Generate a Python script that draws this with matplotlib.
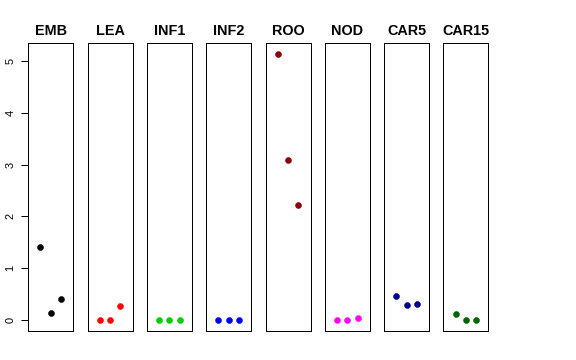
import matplotlib
matplotlib.use("Agg")
import matplotlib.pyplot as plt

plt.rcParams['font.family'] = ['Liberation Sans', 'DejaVu Sans']

categories = ["EMB", "LEA", "INF1", "INF2", "ROO", "NOD", "CAR5", "CAR15"]
values = [
    [1.41, 0.15, 0.42],
    [0.0, 0.0, 0.28],
    [0.0, 0.0, 0.0],
    [0.0, 0.0, 0.0],
    [5.13, 3.09, 2.22],
    [0.0, 0.0, 0.04],
    [0.47, 0.29, 0.31],
    [0.13, 0.0, 0.0],
]
colors = ["#000000", "#FF0000", "#00CD00", "#0000FF", "#8B0000", "#FF00FF", "#00008B", "#006400"]
yticks = [0, 1, 2, 3, 4, 5]

W, H = 576, 360
fig = plt.figure(figsize=(W / 72, H / 72), dpi=72)

all_vals = [v for row in values for v in row]
ymin, ymax = min(all_vals), max(all_vals)
span = ymax - ymin
ylim = (ymin - 0.04 * span, ymax + 0.04 * span)

left0, pitch, pw = 28.3, 59.3, 45.0
top_px, bot_px = 43.3, 331.0
for i, (cat, vals, col) in enumerate(zip(categories, values, colors)):
    ax = fig.add_axes([(left0 + i * pitch) / W, (H - bot_px) / H, pw / W, (bot_px - top_px) / H])
    ax.plot([1, 2, 3], vals, 'o', color=col, ms=6, mec=col, mew=0.5)
    ax.set_xlim(-0.18, 4.18)
    ax.set_ylim(*ylim)
    ax.set_xticks([])
    for s in ax.spines.values():
        s.set_linewidth(1.0)
        s.set_color('black')
    ax.set_title(cat, fontsize=14.4, fontweight='bold', pad=8)
    if i == 0:
        ax.set_yticks(yticks)
        ax.set_yticklabels([str(t) for t in yticks], rotation=90, va='center', fontsize=11)
        ax.tick_params(axis='y', length=7, width=1, pad=6)
    else:
        ax.set_yticks([])

fig.savefig("out.png", dpi=72)
